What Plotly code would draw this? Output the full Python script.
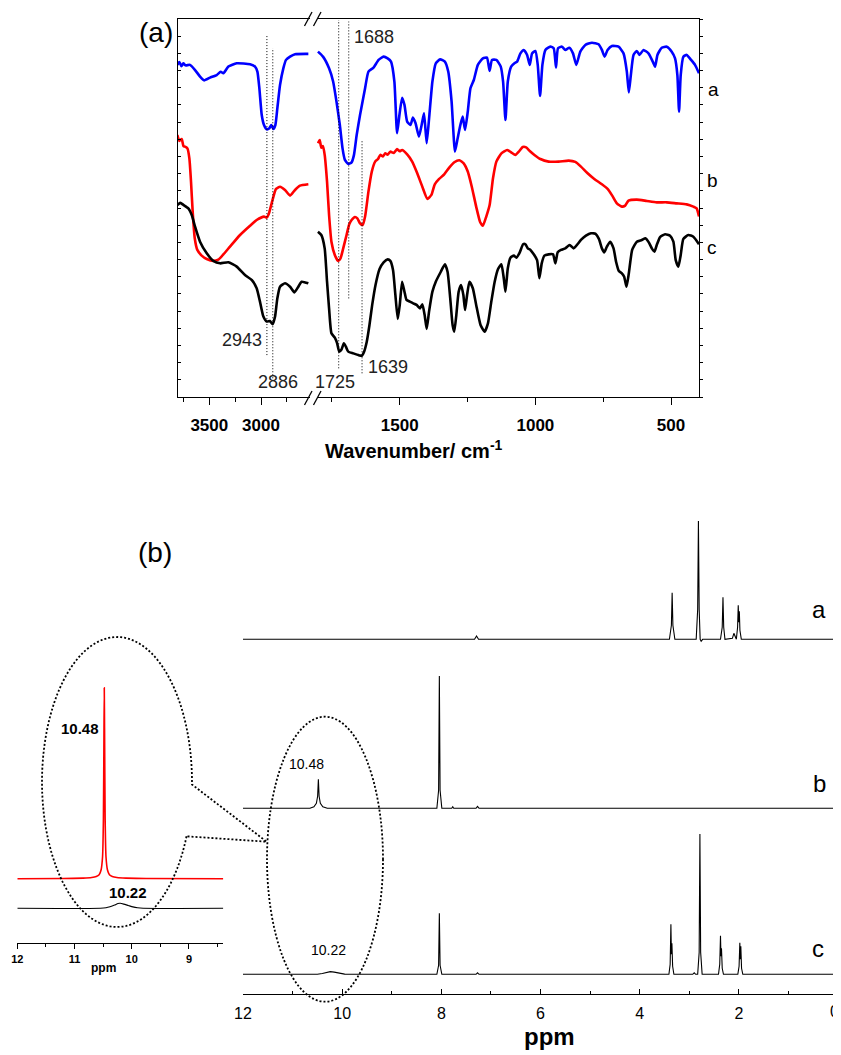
import numpy as np
import plotly.graph_objects as go

FONT = "Liberation Sans, Arial, sans-serif"
WIN_W, WIN_H = 841, 1055
OFF = 8                      # default page body margin
W, H = WIN_W - OFF, WIN_H - OFF

# ---------------- FT-IR data: (wavenumber / cm-1, transmittance a.u.) ----------------
ir_a_left = [(3809, 19.33), (3790, 19.50), (3770, 19.25), (3751, 19.42), (3730, 19.30), (3687, 19.33),
             (3638, 19.03), (3590, 18.65), (3551, 18.43), (3493, 18.59), (3429, 18.74), (3390, 18.93),
             (3364, 18.84), (3316, 19.23), (3235, 19.42), (3106, 19.36), (3058, 19.23), (3035, 18.94),
             (3016, 17.97), (2993, 16.41), (2971, 15.83), (2945, 15.58), (2919, 15.64), (2900, 15.83),
             (2881, 15.60), (2861, 15.83), (2842, 16.80), (2816, 18.16), (2784, 19.13), (2758, 19.62),
             (2719, 19.81), (2671, 19.95), (2542, 19.97)]
ir_b_left = [(3809, 15.25), (3790, 14.90), (3767, 15.02), (3750, 14.60), (3735, 14.57), (3712, 14.47),
             (3693, 13.89), (3677, 12.53), (3661, 10.79), (3641, 9.24), (3616, 8.56), (3574, 8.23),
             (3525, 8.03), (3461, 7.92), (3413, 7.99), (3364, 8.30), (3300, 8.75), (3203, 9.43),
             (3106, 9.97), (3042, 10.30), (2971, 10.50), (2945, 10.44), (2926, 10.63), (2897, 11.27),
             (2855, 12.11), (2816, 12.24), (2768, 12.05), (2719, 11.72), (2671, 12.05), (2623, 12.30),
             (2542, 12.38)]
ir_c_left = [(3809, 11.18), (3780, 11.30), (3751, 11.18), (3703, 10.98), (3670, 10.59), (3638, 9.91),
             (3590, 9.04), (3525, 8.36), (3461, 7.92), (3396, 7.78), (3316, 7.84), (3235, 7.59),
             (3155, 7.10), (3090, 6.81), (3042, 6.33), (3010, 5.55), (2977, 4.68), (2945, 4.39),
             (2913, 4.42), (2887, 4.23), (2864, 4.68), (2842, 5.74), (2816, 6.42), (2768, 6.62),
             (2719, 6.42), (2677, 6.09), (2639, 6.42), (2607, 6.71), (2542, 6.62)]
ir_a_right = [(1801.5, 20.10), (1782.9, 19.81), (1760.5, 19.13), (1745.6, 18.36), (1733.2, 17.19),
              (1720.8, 15.83), (1710.9, 14.47), (1702.2, 13.80), (1689.8, 13.56), (1677.4, 13.66),
              (1668.7, 14.09), (1658.8, 15.25), (1646.4, 16.41), (1627.8, 17.97), (1615.4, 18.94),
              (1596.7, 19.17), (1578.1, 19.62), (1559.5, 19.81), (1544.6, 19.71), (1532.2, 19.52),
              (1519.8, 18.36), (1509.9, 15.35), (1501.2, 16.41), (1491.3, 17.42), (1482.6, 17.00),
              (1472.7, 16.03), (1460.3, 15.83), (1451.6, 16.26), (1441.7, 15.93), (1429.3, 15.15),
              (1419.3, 15.83), (1410.6, 16.51), (1400.7, 14.77), (1390.8, 16.41), (1379.6, 18.36),
              (1367.2, 19.42), (1351.1, 19.65), (1333.7, 19.52), (1321.3, 18.94), (1308.9, 17.19),
              (1296.5, 14.28), (1286.6, 15.06), (1276.6, 15.83), (1268.0, 16.32), (1259.3, 15.54),
              (1249.3, 16.61), (1239.4, 17.97), (1227.0, 18.45), (1212.1, 19.33), (1193.5, 19.71),
              (1178.6, 19.75), (1168.7, 18.98), (1160.0, 19.62), (1143.9, 19.62), (1127.8, 19.23),
              (1119.1, 18.36), (1110.4, 16.12), (1101.7, 18.36), (1089.4, 19.23), (1077.2, 19.42),
              (1067.4, 19.52), (1055.1, 20.00), (1042.9, 20.20), (1030.6, 19.91), (1020.8, 19.33),
              (1012.2, 20.00), (1000.0, 20.14), (991.4, 19.33), (982.8, 17.52), (974.2, 19.33),
              (963.2, 20.20), (944.8, 20.39), (932.6, 20.30), (924.0, 19.17), (916.6, 20.30),
              (902.0, 20.39), (889.7, 20.20), (875.0, 20.33), (861.5, 20.00), (849.2, 19.33),
              (834.5, 20.10), (816.1, 20.49), (791.6, 20.62), (767.1, 20.53), (754.9, 20.20),
              (745.0, 19.81), (734.0, 20.20), (718.1, 20.43), (693.6, 20.39), (675.2, 20.00),
              (663.0, 18.94), (655.6, 17.73), (648.2, 18.74), (638.4, 19.91), (626.2, 20.14),
              (616.4, 19.91), (601.7, 20.20), (583.3, 20.00), (567.4, 19.52), (558.8, 19.23),
              (550.2, 19.91), (534.3, 20.33), (515.9, 20.39), (497.5, 20.10), (485.3, 19.71),
              (476.7, 18.74), (470.5, 16.61), (464.4, 18.74), (454.6, 19.81), (442.3, 19.91),
              (426.4, 19.62), (411.7, 19.33), (397.0, 18.84)]
ir_b_right = [(1801.5, 14.77), (1795, 14.95), (1789.1, 14.51), (1783, 14.60), (1776.7, 14.09),
              (1768.0, 12.53), (1760.5, 10.59), (1751.8, 9.04), (1739.4, 8.27), (1727.0, 7.92),
              (1718.3, 8.07), (1708.4, 8.65), (1696.0, 9.43), (1686.1, 10.05), (1677.4, 10.30),
              (1665.0, 10.48), (1656.3, 10.40), (1646.4, 10.11), (1636.5, 10.01), (1627.8, 10.50),
              (1615.4, 11.95), (1603.0, 13.12), (1590.6, 13.70), (1580, 13.85), (1571.9, 14.09),
              (1562, 14.00), (1553.3, 14.18), (1545, 14.10), (1534.7, 14.28), (1522, 14.20),
              (1509.9, 14.43), (1500, 14.30), (1491.3, 14.38), (1472.7, 14.12), (1454.1, 13.70),
              (1435.5, 13.02), (1416.8, 12.24), (1398.2, 11.53), (1383.3, 11.76), (1370.9, 12.38),
              (1354.8, 12.69), (1336.2, 12.96), (1317.6, 13.35), (1299.0, 13.66), (1280.4, 13.78),
              (1264.3, 13.60), (1249.3, 13.12), (1234.5, 12.24), (1218.3, 11.08), (1203.5, 10.17),
              (1193.5, 9.97), (1181.1, 10.50), (1168.7, 11.17), (1156.3, 12.73), (1143.9, 13.70),
              (1125.3, 14.18), (1104.1, 14.38), (1089.4, 14.24), (1073.5, 14.09), (1061.2, 14.28),
              (1046.5, 14.55), (1034.3, 14.53), (1020.8, 14.32), (1003.6, 14.09), (981.6, 13.85),
              (951.0, 13.70), (914.2, 13.70), (877.4, 13.76), (852.9, 13.68), (832.1, 13.41),
              (807.6, 13.02), (783.0, 12.69), (754.9, 12.38), (734.0, 12.11), (716.9, 11.72),
              (699.7, 11.27), (681.3, 11.08), (669.1, 11.14), (656.8, 11.43), (626.2, 11.49),
              (589.4, 11.41), (552.7, 11.33), (515.9, 11.33), (479.2, 11.27), (442.4, 11.21),
              (417.8, 11.08), (405.6, 10.98), (397.0, 10.50)]
ir_c_right = [(1801.5, 9.62), (1789.1, 9.43), (1776.7, 8.65), (1768.0, 6.71), (1760.5, 5.16),
              (1751.8, 3.71), (1739.4, 3.45), (1730.7, 3.12), (1723.3, 2.64), (1714.6, 2.77),
              (1705.9, 3.12), (1698.5, 2.93), (1689.8, 2.64), (1671.2, 2.54), (1652.6, 2.44),
              (1640.2, 2.40), (1631.5, 2.64), (1621.6, 3.22), (1611.6, 4.19), (1601.7, 5.35),
              (1589.3, 6.52), (1574.4, 7.45), (1559.5, 7.84), (1544.6, 8.01), (1534.7, 7.92),
              (1524.8, 7.39), (1516.1, 5.94), (1507.4, 4.54), (1500.0, 5.36), (1491.3, 6.71),
              (1482.6, 6.13), (1475.2, 5.65), (1462.8, 5.55), (1450.3, 5.45), (1437.9, 5.36),
              (1425.5, 5.16), (1416.8, 5.39), (1408.2, 4.77), (1400.7, 3.96), (1392.0, 4.97),
              (1379.6, 6.13), (1367.2, 6.71), (1348.6, 7.29), (1333.7, 7.72), (1323.8, 7.29),
              (1313.9, 5.74), (1305.2, 4.19), (1299.0, 3.80), (1291.5, 4.77), (1282.9, 6.13),
              (1274.1, 6.52), (1265.5, 5.94), (1259.3, 5.06), (1251.8, 5.94), (1243.1, 6.71),
              (1230.7, 6.33), (1218.3, 5.36), (1202.2, 4.19), (1187.3, 3.80), (1174.9, 4.29),
              (1162.5, 5.55), (1150.1, 6.71), (1137.7, 7.45), (1125.3, 7.72), (1116.6, 6.91),
              (1110.4, 6.13), (1101.7, 7.49), (1091.9, 8.11), (1079.6, 8.23), (1069.8, 8.11),
              (1057.6, 8.42), (1045.3, 8.89), (1036.7, 8.89), (1028.1, 8.65), (1018.3, 8.56),
              (1006.1, 8.31), (993.8, 7.97), (985.3, 6.91), (976.7, 7.78), (966.9, 8.23),
              (951.0, 8.30), (935.0, 8.30), (926.4, 7.78), (917.8, 8.42), (905.6, 8.56),
              (889.7, 8.65), (873.7, 8.85), (859.1, 8.65), (846.8, 8.85), (832.1, 9.14),
              (813.7, 9.39), (795.3, 9.53), (778.1, 9.49), (765.9, 9.20), (754.9, 8.65),
              (746.3, 8.42), (736.5, 8.75), (724.2, 9.04), (712.0, 8.65), (702.2, 7.84),
              (692.4, 7.33), (681.3, 7.20), (672.8, 7.00), (664.2, 6.42), (655.6, 7.20),
              (643.3, 8.56), (626.2, 9.04), (607.8, 9.14), (594.3, 9.24), (582.1, 9.00),
              (569.8, 8.62), (561.2, 8.46), (552.7, 8.85), (540.4, 9.31), (522.0, 9.47),
              (503.6, 9.39), (491.4, 9.04), (482.8, 7.97), (473.0, 7.59), (464.4, 8.27),
              (454.6, 9.20), (436.2, 9.43), (417.8, 9.33), (397.0, 8.89)]

# marked bands: (wavenumber, y_start, y_end, side)
ir_marks = [(2943, 2.44, 21.07, "L"), (2886, 1.09, 20.30, "L"),
            (1725, 1.67, 21.94, "R"), (1688, 5.74, 21.85, "R"), (1639, 1.38, 14.96, "R")]
ir_mark_labels = [("2943", 3187, 3.32, "L"), ("2886", 2832, 0.89, "L"),
                  ("1725", 1739, 0.89, "R"), ("1639", 1544.6, 1.77, "R"), ("1688", 1594.3, 20.97, "R")]
ir_ticks_left = [3500, 3000]
ir_minor_left = [3750, 3250, 2750]
ir_ticks_right = [1500, 1000, 500]
ir_minor_right = [1750, 1250, 750]

# ---------------- 1H NMR data: (ppm, intensity a.u.) ----------------
nmr_a = [(12.0, 0), (9.0, 0), (7.33, 0), (7.29, 3.3), (7.25, 0), (3.40, 0), (3.36, 14), (3.345, 46.6),
         (3.33, 14), (3.29, 0), (2.86, 0), (2.83, 30), (2.815, 118.3), (2.80, 30), (2.78, 0), (2.76, -2),
         (2.73, 0), (2.37, 0), (2.335, 12), (2.32, 42), (2.305, 12), (2.28, 0), (2.13, 1), (2.10, 6),
         (2.07, 1), (2.05, 0), (2.025, 12), (2.012, 34), (2.0, 17), (1.99, 28), (1.978, 9), (1.95, 0),
         (0.0, 0)]
nmr_b = [(12.0, 0), (10.65, 0), (10.57, 1.5), (10.52, 5), (10.495, 12), (10.48, 29), (10.465, 12),
         (10.44, 5), (10.39, 1.5), (10.3, 0), (8.09, 0), (8.055, 18), (8.04, 132.3), (8.025, 18),
         (7.99, 0), (7.79, 0), (7.77, 1.5), (7.75, 0), (7.30, 0), (7.27, 2), (7.24, 0), (0.0, 0)]
nmr_c = [(12.0, 0), (10.5, 0), (10.4, 0.8), (10.32, 2.0), (10.24, 2.7), (10.16, 2.2), (10.06, 1.0),
         (9.95, 0.2), (9.85, 0), (8.09, 0), (8.055, 9), (8.04, 61), (8.025, 9), (7.99, 0), (7.30, 0),
         (7.27, 1.5), (7.24, 0), (3.41, 0), (3.385, 10), (3.37, 50), (3.36, 20), (3.35, 31), (3.335, 8),
         (3.31, 0), (2.93, 0), (2.90, 1.5), (2.87, 0), (2.83, 0), (2.80, 22), (2.785, 140.3), (2.77, 22),
         (2.74, 0), (2.41, 0), (2.385, 10), (2.37, 38.6), (2.36, 18), (2.35, 26), (2.335, 6), (2.31, 0),
         (2.02, 0), (1.995, 8), (1.98, 31.6), (1.97, 15), (1.96, 28), (1.945, 6), (1.92, 0), (0.0, 0)]
inset_b = [(12.0, 0), (11.2, 0.2), (10.85, 0.6), (10.7, 1.2), (10.62, 2.2), (10.57, 4), (10.535, 9),
           (10.51, 22), (10.495, 60), (10.485, 150), (10.48, 191), (10.475, 150), (10.465, 60),
           (10.45, 22), (10.425, 9), (10.39, 4), (10.34, 2.2), (10.26, 1.2), (10.1, 0.6), (9.75, 0.2),
           (8.4, 0)]
inset_c = [(12.0, 0), (10.55, 0), (10.45, 0.5), (10.38, 1.5), (10.3, 3.2), (10.24, 4.8), (10.2, 5),
           (10.14, 4.2), (10.06, 2.8), (9.98, 1.4), (9.9, 0.5), (9.8, 0), (8.4, 0)]
nmr_ticks = [12, 10, 8, 6, 4, 2, 0]
nmr_ticktext = ["12", "10", "8", "6", "4", "2", ""]   # the edge label "0" is placed as a text below
nmr_minor = [11, 9, 7, 5, 3, 1]
inset_ticks = [12, 11, 10, 9]
inset_minor = [11.5, 10.5, 9.5, 8.5]


def px(x):
    return (x - OFF) / W


def py(y):
    return 1 - (y - OFF) / H


def split(pairs):
    return [p[0] for p in pairs], [p[1] for p in pairs]


fig = go.Figure()

for pairs, col, xa, ya in [(ir_a_left, "#0000FF", "x", "y"), (ir_b_left, "#FF0000", "x", "y"),
                           (ir_c_left, "#000000", "x", "y"), (ir_a_right, "#0000FF", "x2", "y2"),
                           (ir_b_right, "#FF0000", "x2", "y2"), (ir_c_right, "#000000", "x2", "y2")]:
    xs, ys = split(pairs)
    fig.add_trace(go.Scatter(x=xs, y=ys, mode="lines", xaxis=xa, yaxis=ya, showlegend=False,
                             hoverinfo="skip",
                             line=dict(color=col, width=2.6, shape="spline", smoothing=0.5)))

for pairs, ya in [(nmr_a, "y3"), (nmr_b, "y4"), (nmr_c, "y5")]:
    xs, ys = split(pairs)
    fig.add_trace(go.Scatter(x=xs, y=ys, mode="lines", xaxis="x3", yaxis=ya, showlegend=False,
                             hoverinfo="skip", line=dict(color="black", width=1.1)))
xs, ys = split(inset_b)
fig.add_trace(go.Scatter(x=xs, y=ys, mode="lines", xaxis="x4", yaxis="y6", showlegend=False,
                         hoverinfo="skip", line=dict(color="#FF0000", width=1.6, shape="spline", smoothing=0.4)))
xs, ys = split(inset_c)
fig.add_trace(go.Scatter(x=xs, y=ys, mode="lines", xaxis="x4", yaxis="y7", showlegend=False,
                         hoverinfo="skip", line=dict(color="black", width=1.1, shape="spline", smoothing=0.6)))

tickfont_b = dict(family=FONT, size=17, color="black", weight="bold")
ir_common = dict(showgrid=False, zeroline=False, showline=True, linecolor="black", linewidth=1.3)

shapes = []
for wn, y0, y1, side in ir_marks:
    xr, yr = ("x", "y") if side == "L" else ("x2", "y2")
    shapes.append(dict(type="line", xref=xr, yref=yr, x0=wn, x1=wn, y0=y0, y1=y1,
                       line=dict(color="black", width=1, dash="1px,2px")))
for yc in (19, 398):
    for xa in (304.5, 313.5):
        shapes.append(dict(type="line", xref="paper", yref="paper", x0=px(xa), x1=px(xa + 7.5),
                           y0=py(yc + 7), y1=py(yc - 7), line=dict(color="black", width=1.3)))
shapes.append(dict(type="circle", xref="paper", yref="paper", x0=px(267), x1=px(383),
                   y0=py(1001.7), y1=py(716.7), line=dict(color="black", width=1.8, dash="2px,2px")))
cx, cy, ea, eb = 117, 782, 75, 145
th = np.radians(np.linspace(22, 361, 140))
pts = [(cx + ea * np.cos(t), cy + eb * np.sin(t)) for t in th]
pts.append((266.7, 841.7))
path = "M " + " L ".join(f"{px(x):.5f},{py(y):.5f}" for x, y in pts) + " Z"
shapes.append(dict(type="path", xref="paper", yref="paper", path=path,
                   line=dict(color="black", width=1.8, dash="2px,2px")))

ann = []


def add_text(text, x, y, size, bold=False, xref="paper", yref="paper", color="black"):
    if xref == "paper":
        x = px(x)
    if yref == "paper":
        y = py(y)
    ann.append(dict(text=text, x=x, y=y, xref=xref, yref=yref, showarrow=False, xanchor="center",
                    yanchor="middle", font=dict(family=FONT, size=size, color=color,
                                                weight="bold" if bold else "normal")))


add_text("(a)", 156, 33, 28)
add_text("(b)", 155, 552, 28)
add_text("Wavenumber/ cm<sup>-1</sup>", 414, 450, 20, bold=True)
for t, wn, yv, side in ir_mark_labels:
    xr, yr = ("x", "y") if side == "L" else ("x2", "y2")
    add_text(t, wn, yv, 18, xref=xr, yref=yr, color="#222222")
add_text("a", 713, 90, 19)
add_text("b", 712, 180, 19)
add_text("c", 712, 247, 19)
add_text("a", 819, 609, 24)
add_text("b", 819, 783, 24)
add_text("c", 818, 948, 24)
add_text("10.48", 306, 764, 14)
add_text("10.22", 328.6, 950, 14)
add_text("10.48", 80, 728, 15, bold=True)
add_text("10.22", 128.3, 892, 15, bold=True)
add_text("ppm", 549.6, 1036, 24, bold=True)
add_text("ppm", 103, 968, 12, bold=True)
add_text("0", 834, 1011, 16)

fig.update_layout(
    width=W, height=H, margin=dict(l=0, r=0, t=0, b=0), template="none",
    paper_bgcolor="white", plot_bgcolor="rgba(0,0,0,0)", showlegend=False,
    font=dict(family=FONT, color="black"),
    xaxis=dict(domain=[px(178), px(310)], range=[3803, 2526], anchor="y", mirror=True,
               ticks="outside", ticklen=7, tickwidth=1.2, tickcolor="black", tickvals=ir_ticks_left,
               tickfont=tickfont_b, ticklabelstandoff=5,
               minor=dict(tickvals=ir_minor_left, ticks="outside", ticklen=4, tickwidth=1.2, tickcolor="black"),
               **ir_common),
    xaxis2=dict(domain=[px(317), px(699)], range=[1805, 397], anchor="y2", mirror=True,
                ticks="outside", ticklen=7, tickwidth=1.2, tickcolor="black", tickvals=ir_ticks_right,
                tickfont=tickfont_b, ticklabelstandoff=5,
                minor=dict(tickvals=ir_minor_right, ticks="outside", ticklen=4, tickwidth=1.2, tickcolor="black"),
                **ir_common),
    xaxis5=dict(overlaying="x", anchor="y", side="top", range=[3803, 2526], showgrid=False, zeroline=False,
                showline=False, ticks="inside", ticklen=5, tickwidth=1.2, tickcolor="black",
                tickvals=ir_ticks_left, showticklabels=False,
                minor=dict(tickvals=ir_minor_left, ticks="inside", ticklen=3, tickwidth=1.2, tickcolor="black")),
    xaxis6=dict(overlaying="x2", anchor="y2", side="top", range=[1805, 397], showgrid=False, zeroline=False,
                showline=False, ticks="inside", ticklen=5, tickwidth=1.2, tickcolor="black",
                tickvals=ir_ticks_right, showticklabels=False,
                minor=dict(tickvals=ir_minor_right, ticks="inside", ticklen=3, tickwidth=1.2, tickcolor="black")),
    yaxis=dict(domain=[py(397), py(19)], range=[0, 22], anchor="x", ticks="inside", ticklen=3,
               tickwidth=1, tickcolor="black", tick0=0, dtick=1, showticklabels=False, **ir_common),
    yaxis2=dict(domain=[py(397), py(19)], range=[0, 22], anchor="x2", side="right", ticks="outside",
                ticklen=3, tickwidth=1, tickcolor="black", tick0=0, dtick=1, showticklabels=False,
                **ir_common),
    xaxis3=dict(domain=[px(243), px(838)], range=[12, 0], anchor="free", position=py(994),
                showgrid=False, zeroline=False, showline=True, linecolor="black", linewidth=1.2,
                ticks="inside", ticklen=5, tickwidth=1.2, tickcolor="black", tickvals=nmr_ticks,
                ticktext=nmr_ticktext,
                tickfont=dict(family=FONT, size=16, color="black"), ticklabelstandoff=5,
                minor=dict(tickvals=nmr_minor, ticks="inside", ticklen=3, tickwidth=1.2, tickcolor="black")),
    yaxis3=dict(domain=[py(644.3), py(489.3)], range=[-5, 150], anchor="x3", visible=False),
    yaxis4=dict(domain=[py(813.3), py(658.3)], range=[-5, 150], anchor="x3", visible=False),
    yaxis5=dict(domain=[py(979.3), py(824.3)], range=[-5, 150], anchor="x3", visible=False),
    xaxis4=dict(domain=[px(17.3), px(223.3)], range=[12, 8.4], anchor="free", position=py(942.7),
                showgrid=False, zeroline=False, showline=True, linecolor="black", linewidth=1.2,
                ticks="outside", ticklen=5, tickwidth=1.2, tickcolor="black", tickvals=inset_ticks,
                tickfont=dict(family=FONT, size=11, color="black", weight="bold"), ticklabelstandoff=1,
                minor=dict(tickvals=inset_minor, ticks="outside", ticklen=3, tickwidth=1.2, tickcolor="black")),
    yaxis6=dict(domain=[py(883.7), py(678.7)], range=[-5, 200], anchor="x4", visible=False),
    yaxis7=dict(domain=[py(911.3), py(888.3)], range=[-3, 20], anchor="x4", visible=False),
    shapes=shapes, annotations=ann,
)

fig.write_html("out.html")
